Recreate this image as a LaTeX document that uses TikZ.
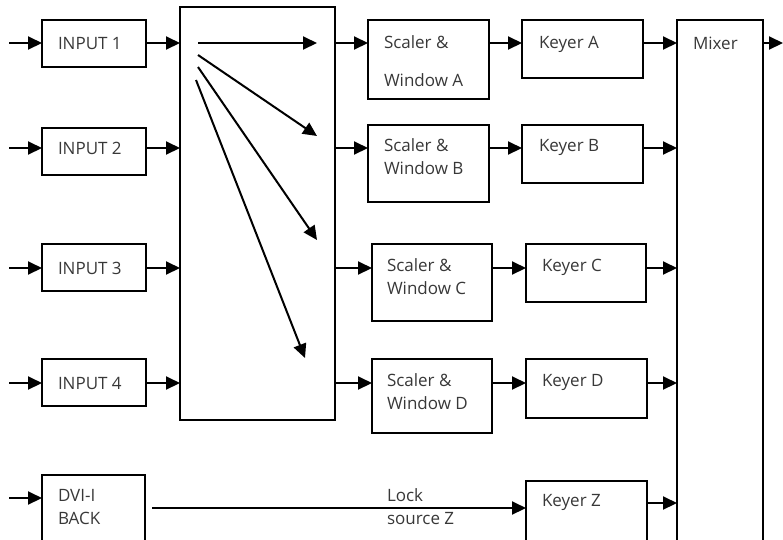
\documentclass[tikz,border=0pt]{standalone}
\usepackage{fontspec}
\setmainfont{Open Sans}
\usetikzlibrary{arrows.meta}

\begin{document}
\begin{tikzpicture}[x=1pt, y=-1pt, line width=2pt,
  blk/.style={draw, rectangle, inner sep=0pt, outer sep=0pt, anchor=north west},
  txt/.style={inner sep=0pt, anchor=base west, align=left, text=black!78, font=\fontsize{17}{23}\selectfont},
  sig/.style={-{Triangle[length=14pt,width=13pt]}}]
\clip (0,0) rectangle (783,539);
% rows
\coordinate (r1) at (0,43);
\coordinate (r2) at (0,148);
\coordinate (r3) at (0,268);
\coordinate (r4) at (0,383);
\coordinate (r5) at (0,498);
\coordinate (rl) at (0,508);
\coordinate (rz) at (0,503);
% inputs
\node[blk, minimum width=104, minimum height=47] (in1) at (42,20) {};
\node[blk, minimum width=104, minimum height=47] (in2) at (42,128) {};
\node[blk, minimum width=104, minimum height=47] (in3) at (42,244) {};
\node[blk, minimum width=104, minimum height=47] (in4) at (42,359) {};
\node[blk, minimum width=103, minimum height=90] (dvi) at (42,475) {};
\node[txt] (in1t) at (57,49) {INPUT 1};
\node[txt] (in2t) at (57,154) {INPUT 2};
\node[txt] (in3t) at (57,274) {INPUT 3};
\node[txt] (in4t) at (57,389) {INPUT 4};
\node[txt] (dvit) at (57,524) {DVI-I\\BACK};
% router
\node[blk, minimum width=155, minimum height=413] (rt) at (180,7) {};
% scalers
\node[blk, minimum width=121, minimum height=79] (scA) at (368,20) {};
\node[blk, minimum width=121, minimum height=77] (scB) at (368,125) {};
\node[blk, minimum width=120, minimum height=77] (scC) at (372,244) {};
\node[blk, minimum width=120, minimum height=74] (scD) at (372,359) {};
\node[txt] (scAt) at (383,86) {Scaler \&\\[15pt]Window A};
\node[txt] (scBt) at (383,174) {Scaler \&\\Window B};
\node[txt] (scCt) at (386,294) {Scaler \&\\Window C};
\node[txt] (scDt) at (386,409) {Scaler \&\\Window D};
% keyers
\node[blk, minimum width=121, minimum height=58] (kyA) at (522,20) {};
\node[blk, minimum width=121, minimum height=58] (kyB) at (522,125) {};
\node[blk, minimum width=120, minimum height=58] (kyC) at (526,244) {};
\node[blk, minimum width=121, minimum height=59] (kyD) at (526,359) {};
\node[blk, minimum width=121, minimum height=90] (kyZ) at (526,481) {};
\node[txt] (kyAt) at (538,48) {Keyer A};
\node[txt] (kyBt) at (538,151) {Keyer B};
\node[txt] (kyCt) at (541,271) {Keyer C};
\node[txt] (kyDt) at (541,386) {Keyer D};
\node[txt] (kyZt) at (541,506) {Keyer Z};
% mixer
\node[blk, minimum width=86, minimum height=560] (mx) at (677,20) {};
\node[txt] (mxt) at (692,49) {Mixer};
\node[txt] (lock) at (386,524) {Lock\\source Z};
% feeds
\coordinate (s1) at (9,43);
\coordinate (s2) at (9,148);
\coordinate (s3) at (9,268);
\coordinate (s4) at (9,383);
\coordinate (s5) at (9,498);
\coordinate (out) at (783,43);
\draw[sig] (s1) -- (in1.west |- r1);
\draw[sig] (s2) -- (in2.west |- r2);
\draw[sig] (s3) -- (in3.west |- r3);
\draw[sig] (s4) -- (in4.west |- r4);
\draw[sig] (s5) -- (dvi.west |- r5);
\draw[sig] (in1.east |- r1) -- (rt.west |- r1);
\draw[sig] (in2.east |- r2) -- (rt.west |- r2);
\draw[sig] (in3.east |- r3) -- (rt.west |- r3);
\draw[sig] (in4.east |- r4) -- (rt.west |- r4);
% crosspoints
\coordinate (f1) at (198,43);
\coordinate (f2) at (198,55);
\coordinate (f3) at (198,67);
\coordinate (f4) at (196,80);
\coordinate (t1) at (317,43);
\coordinate (t2) at (317,136);
\coordinate (t3) at (317,240);
\coordinate (t4) at (305,358);
\draw[sig] (f1) -- (t1);
\draw[sig] (f2) -- (t2);
\draw[sig] (f3) -- (t3);
\draw[sig] (f4) -- (t4);
% to scalers
\draw[sig] (rt.east |- r1) -- (scA.west |- r1);
\draw[sig] (rt.east |- r2) -- (scB.west |- r2);
\draw[sig] (rt.east |- r3) -- (scC.west |- r3);
\draw[sig] (rt.east |- r4) -- (scD.west |- r4);
\draw[sig] (scA.east |- r1) -- (kyA.west |- r1);
\draw[sig] (scB.east |- r2) -- (kyB.west |- r2);
\draw[sig] (scC.east |- r3) -- (kyC.west |- r3);
\draw[sig] (scD.east |- r4) -- (kyD.west |- r4);
\draw[sig] ([xshift=7pt]dvi.east |- rl) -- (kyZ.west |- rl);
% to mixer
\draw[sig] (kyA.east |- r1) -- (mx.west |- r1);
\draw[sig] (kyB.east |- r2) -- (mx.west |- r2);
\draw[sig] (kyC.east |- r3) -- (mx.west |- r3);
\draw[sig] (kyD.east |- r4) -- (mx.west |- r4);
\draw[sig] (kyZ.east |- rz) -- (mx.west |- rz);
\draw[sig] (mx.east |- r1) -- (out);
\end{tikzpicture}
\end{document}
